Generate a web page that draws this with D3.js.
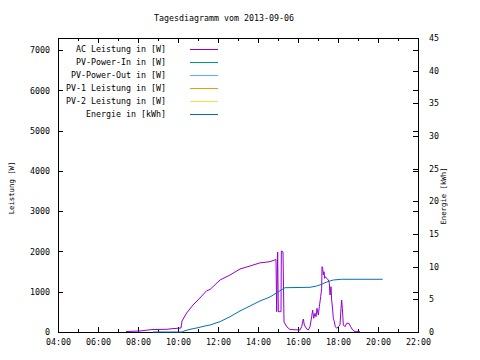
<!DOCTYPE html>
<html>
<head>
<meta charset="utf-8">
<script src="https://cdn.jsdelivr.net/npm/d3@7"></script>
<style>
  body { margin: 0; background: #fff; }
  svg text { font-family: "DejaVu Sans Mono", monospace; font-size: 8.3px; fill: #000; }
  .axis line { stroke: #000; shape-rendering: crispEdges; }
  .axis path { display: none; }
</style>
</head>
<body>
<div id="chart"></div>
<script>
// AC Leistung [W]
const acTimes = ["07:24","08:06","08:30","08:45","09:27","09:42","10:09","10:12","10:26","10:45","11:00","11:26","11:36","12:06","12:36","13:06","13:36","14:06","14:36","14:54","14:56","14:59","15:01","15:09","15:10","15:15","15:18","15:27","15:36","16:06","16:11","16:16","16:19","16:26","16:31","16:36","16:41","16:44","16:47","16:51","16:54","16:57","17:01","17:04","17:08","17:11","17:12","17:14","17:16","17:18","17:20","17:22","17:26","17:31","17:34","17:36","17:39","17:41","17:44","17:46","17:49","17:52","17:56","18:01","18:06","18:09","18:11","18:13","18:16","18:21","18:26","18:33","18:38","18:44","18:51","19:06"];
const acValues = [12,25,50,62,67,82,99,273,472,670,795,1025,1055,1291,1415,1564,1639,1717,1746,1800,504,1986,504,504,2011,1986,248,124,62,50,132,323,174,75,50,132,380,546,340,464,380,588,422,628,876,1085,1621,1582,1415,1497,1333,1373,1333,1291,1209,919,1125,795,546,340,256,132,92,132,174,588,795,588,174,132,216,216,132,50,8,8];

// these have no visible data in the picture
const pvInTimes = [], pvInValues = [];
const pvOutTimes = [], pvOutValues = [];
const pv1Times = [], pv1Values = [];
const pv2Times = [], pv2Values = [];

// Energie [kWh]
const enTimes = ["08:45","10:12","10:21","10:36","11:00","11:21","11:36","12:06","12:36","13:06","13:36","14:06","14:36","15:06","15:21","16:36","16:56","17:11","17:21","17:36","17:46","18:11","20:14"];
const enValues = [0,0,0.2,0.41,0.66,0.92,1.07,1.58,2.34,3.22,3.98,4.75,5.36,6.32,6.78,6.84,7.04,7.30,7.55,7.81,7.96,8.07,8.07];

const legendLabels = ["AC Leistung in [W]","PV-Power-In in [W]","PV-Power-Out in [W]","PV-1 Leistung in [W]","PV-2 Leistung in [W]","Energie in [kWh]"];
const colors = ["#9400d3","#009e73","#56b4e9","#e69f00","#f0e442","#0072b2"];

const W = 480, H = 360;
const mLeft = 58, mRight = 418, mTop = 38, mBottom = 332;
const parse = d3.timeParse("%H:%M");

const svg = d3.select("#chart").append("svg").attr("width", W).attr("height", H);

const x = d3.scaleTime().domain([parse("04:00"), parse("22:00")]).range([mLeft, mRight]);
const y = d3.scaleLinear().domain([0, 7300]).range([mBottom, mTop]);
const y2 = d3.scaleLinear().domain([0, 45]).range([mBottom, mTop]);

// axes
svg.append("g").attr("class","axis").attr("transform",`translate(0,${mBottom})`)
  .call(d3.axisBottom(x).ticks(d3.timeHour.every(1)).tickSize(-3).tickFormat(""));
svg.append("g").attr("class","axis").attr("transform",`translate(0,${mBottom})`)
  .call(d3.axisBottom(x).ticks(d3.timeHour.every(2)).tickSize(-5).tickPadding(7.5).tickFormat(d3.timeFormat("%H:%M")));
svg.append("g").attr("class","axis").attr("transform",`translate(0,${mTop})`)
  .call(d3.axisTop(x).ticks(d3.timeHour.every(1)).tickSize(-3).tickFormat(""));
svg.append("g").attr("class","axis").attr("transform",`translate(0,${mTop})`)
  .call(d3.axisTop(x).ticks(d3.timeHour.every(2)).tickSize(-5).tickFormat(""));

svg.append("g").attr("class","axis").attr("transform",`translate(${mLeft},0)`)
  .call(d3.axisLeft(y).tickValues(d3.range(0, 7001, 1000)).tickSize(-5).tickPadding(8).tickFormat(d3.format("d")));
svg.append("g").attr("class","axis").attr("transform",`translate(${mRight},0)`)
  .call(d3.axisRight(y).tickValues(d3.range(0, 7001, 1000)).tickSize(-5).tickFormat(""));
svg.append("g").attr("class","axis").attr("transform",`translate(${mRight},0)`)
  .call(d3.axisRight(y2).tickValues(d3.range(0, 46, 5)).tickSize(-5).tickPadding(11).tickFormat(d3.format("d")));

svg.append("rect")
  .attr("x", mLeft).attr("y", mTop)
  .attr("width", mRight - mLeft).attr("height", mBottom - mTop)
  .attr("fill","none").attr("stroke","#000").attr("shape-rendering","crispEdges");

// lines
const series = [
  [acTimes, acValues, y],
  [pvInTimes, pvInValues, y],
  [pvOutTimes, pvOutValues, y],
  [pv1Times, pv1Values, y],
  [pv2Times, pv2Values, y],
  [enTimes, enValues, y2]
];

series.forEach(function(s, i){
  const pts = s[0].map((t, j) => ({t: parse(t), v: s[1][j]}));
  if (!pts.length) return;
  const line = d3.line().x(d => x(d.t)).y(d => s[2](d.v));
  svg.append("path")
    .datum(pts)
    .attr("d", line)
    .attr("fill","none")
    .attr("stroke", colors[i])
    .attr("stroke-width", 1);
});

// legend
const lg = svg.append("g");
legendLabels.forEach(function(l, i){
  const ly = 49 + i * 13;
  lg.append("text").attr("x",166).attr("y",ly + 3).attr("text-anchor","end").text(l);
  lg.append("line").attr("x1",190).attr("x2",218).attr("y1",ly + 0.5).attr("y2",ly + 0.5)
    .attr("stroke",colors[i]).attr("stroke-width",1);
});

// titles
svg.append("text").attr("x",224).attr("y",21).attr("text-anchor","middle").text("Tagesdiagramm vom 2013-09-06");
svg.append("text").attr("transform","translate(14,188) rotate(-90)").attr("text-anchor","middle")
  .style("font-size","7.3px").text("Leistung [W]");
svg.append("text").attr("transform","translate(446,196) rotate(-90)").attr("text-anchor","middle")
  .style("font-size","7.3px").text("Energie [kWh]");
</script>
</body>
</html>
